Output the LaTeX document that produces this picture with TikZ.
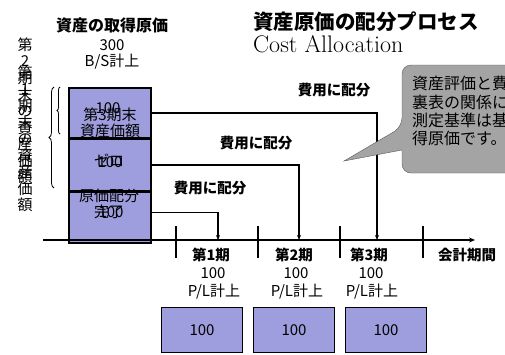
\documentclass[tikz,border=0pt]{standalone}
\usepackage{fontspec}
\setmainfont{Noto Sans CJK JP}
\newfontfamily\latinserif{Latin Modern Roman}
\usetikzlibrary{positioning,arrows.meta,decorations.pathreplacing}
\definecolor{costfill}{RGB}{158,158,222}
\definecolor{notefill}{RGB}{164,164,164}

\begin{document}
\begin{tikzpicture}[x=1pt,y=-1pt,
    seg node/.style={draw,line width=1.6pt,fill=costfill,minimum width=82pt,inner sep=0pt},
    pl node/.style={draw,line width=1.6pt,fill=costfill,minimum width=81pt,minimum height=45pt,
      font=\fontsize{15}{17}\selectfont},
    lbl/.style={inner sep=1pt,font=\fontsize{14.5}{16}\selectfont\bfseries},
    txt/.style={inner sep=1pt,align=center,font=\fontsize{15}{16}\selectfont},
    vchar/.style={inner sep=0pt,font=\fontsize{15}{15}\selectfont},
    alloc/.style={line width=1.8pt,-{Stealth[length=5pt,width=4pt]}},
    tick/.style={line width=2.4pt}]

  \useasboundingbox (0,0) rectangle (505,354);

  % title
  \node[anchor=west,inner sep=0pt,font=\fontsize{20.5}{22}\selectfont\bfseries] (title) at (253,22) {資産原価の配分プロセス};
  \node[inner sep=0pt,font=\latinserif\fontsize{24}{25}\selectfont] (sub) [below right=3pt and 0pt of title.south west] {Cost Allocation};

  % acquisition cost
  \node[lbl,font=\fontsize{16}{18}\selectfont\bfseries] (cost) at (112,25) {資産の取得原価};
  \node[txt] (costval) at (112,45) {300};
  \node[txt] (bs) at (112,62) {B/S計上};

  % the asset box
  \node[seg node,minimum height=50pt,anchor=north west] (seg1) at (68,87) {};
  \node[seg node,minimum height=51pt,anchor=north] (seg2) at (seg1.south) {};
  \node[seg node,minimum height=51pt,anchor=north] (seg3) at (seg2.south) {};
  \node[txt] (seg1txt) at (110,123) {第3期末\\資産価額};
  \node[txt] (seg1val) at (108,108) {100};
  \node[txt] (seg2txt) at (109,160) {ゼロ};
  \node[txt] (seg2val) at (110,162) {100};
  \node[txt] (seg3txt) at (109,204) {原価配分\\完了};
  \node[txt] (seg3val) at (111,212) {100};

  % braces and the vertical captions
  \draw[decorate,decoration={brace,amplitude=5pt},line width=0.8pt] (54,188) -- (54,87);
  \draw[decorate,decoration={brace,amplitude=3pt},line width=0.8pt] (60,134) -- (60,87);
  \foreach \c [count=\i] in {第,2,期,末,の,資,産,価,額}
    \node[vchar] (endtwo\i) at (25,45+16.5*\i-16.5) {\c};
  \foreach \c [count=\i] in {第,1,期,末,の,資,産,価,額}
    \node[vchar] (endone\i) at (25,73+16.5*\i-16.5) {\c};

  % time axis
  \coordinate (axstart) at (43,240);
  \coordinate (axend) at (475,240);
  \draw[line width=1.4pt,-{Stealth[length=6pt,width=5pt]}] (axstart) -- (axend);
  \foreach \x in {176,258,340,423}
    \draw[tick] (\x,226) -- (\x,258);
  \coordinate (p1) at (218,240);
  \coordinate (p2) at (299,240);
  \coordinate (p3) at (377,240);

  % allocation
  \draw[alloc] (seg1.east) -| (p3);
  \draw[alloc] (seg2.east) -| (p2);
  \draw[alloc] ([yshift=5pt]seg3.east) -| (p1);
  \node[lbl] (alloc3) at (334,90) {費用に配分};
  \node[lbl] (alloc2) at (256,143) {費用に配分};
  \node[lbl] (alloc1) at (210,188) {費用に配分};

  % periods
  \foreach \x/\n in {211/1,294/2,369/3} {
    \node[lbl] (per\n) at (\x,255) {第{\n}期};
    \node[txt] (perval\n) at (\x+2,273) {100};
    \node[txt] (pl\n) at (\x+3,292) {P/L計上};
  }
  \node[lbl] (period) at (467,255) {会計期間};

  \foreach \x/\n in {202/1,294/2,386/3}
    \node[pl node] (plbox\n) at (\x,330) {100};

  % note
  \draw[draw=black!65,fill=notefill,rounded corners=9pt]
    (530,65) -- (402,65) -- (402,127) [sharp corners] -- (344,161) -- (402,150)
    [rounded corners=9pt] -- (402,173) -- (530,173);
  \node[anchor=north west,align=left,inner sep=0pt,font=\fontsize{16}{18.4}\selectfont] (note) at (412,76)
    {資産評価と費\\裏表の関係に\\測定基準は基\\得原価です。};
\end{tikzpicture}
\end{document}
